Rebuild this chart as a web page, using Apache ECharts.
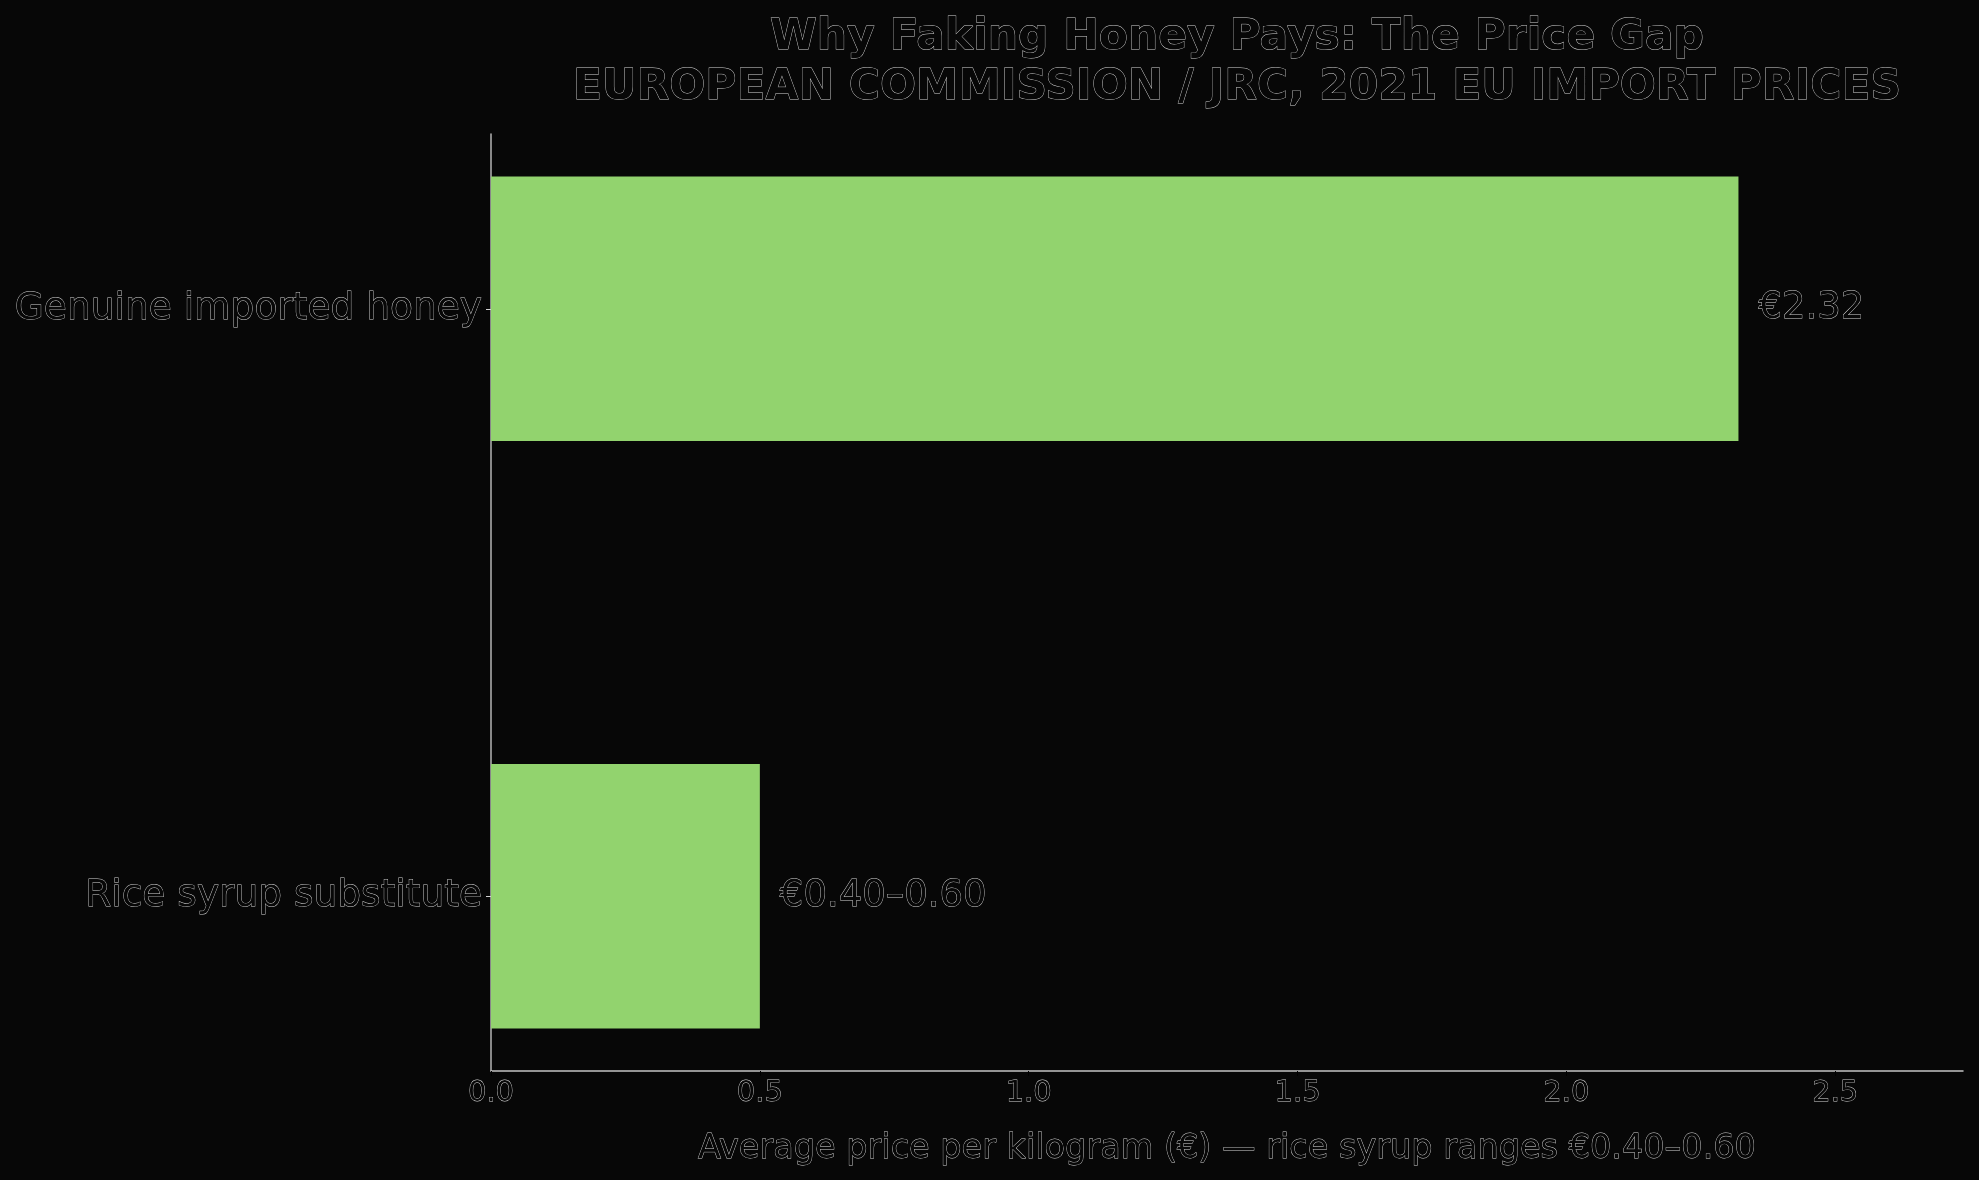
<!DOCTYPE html>
<html>
<head>
<meta charset="utf-8">
<script src="https://cdn.jsdelivr.net/npm/echarts@6/dist/echarts.min.js"></script>
<style>
html,body{margin:0;padding:0;background:#070707;}
#chart{width:1979px;height:1180px;}
</style>
</head>
<body>
<div id="chart"></div>
<script>
const categories = ['Rice syrup substitute', 'Genuine imported honey'];
const values = [0.5, 2.32];
const valueLabels = ['€0.40–0.60', '€2.32'];
const xTicks = [0, 0.5, 1.0, 1.5, 2.0, 2.5];
const titleText = 'Why Faking Honey Pays: The Price Gap\nEUROPEAN COMMISSION / JRC, 2021 EU IMPORT PRICES';
const xAxisName = 'Average price per kilogram (€) — rice syrup ranges €0.40–0.60';

const FONT = 'DejaVu Sans';
const BG = '#070707';
const OUTLINE = '#d2d2d2';
const BAR = '#92d36e';
const HALF = 0.225;
const BW = 0.8;

const chart = echarts.init(document.getElementById('chart'), null, {renderer: 'canvas'});
const outlineText = (size, weight) => ({
  fontFamily: FONT, fontSize: size, fontWeight: weight || 'normal',
  color: BG, textBorderColor: OUTLINE, textBorderWidth: BW
});

chart.setOption({
  backgroundColor: BG,
  animation: false,
  title: {
    text: titleText,
    left: 1232,
    textAlign: 'center',
    top: 8,
    textStyle: Object.assign(outlineText(42.5, 'bold'), {lineHeight: 50})
  },
  grid: {left: 491, right: 16, top: 134, bottom: 109, containLabel: false},
  xAxis: {
    type: 'value',
    min: 0,
    max: 2.7376,
    name: xAxisName,
    nameLocation: 'middle',
    nameGap: 61,
    nameTextStyle: outlineText(33.5),
    axisLine: {show: true, onZero: false, lineStyle: {color: '#c4c4c4', width: 1.5}},
    axisTick: {show: true, customValues: xTicks, length: 5, lineStyle: {color: '#000', width: 1}},
    axisLabel: Object.assign(outlineText(29), {
      customValues: xTicks, margin: 8,
      formatter: v => Number(v).toFixed(1)
    }),
    splitLine: {show: false}
  },
  yAxis: {
    type: 'value',
    min: -0.2975,
    max: 1.2975,
    axisLine: {show: true, onZero: false, lineStyle: {color: '#b4b4b4', width: 1.5}},
    axisTick: {show: true, customValues: [0, 1], length: 5, lineStyle: {color: '#d2d2d2', width: 1}},
    axisLabel: Object.assign(outlineText(37.5), {
      customValues: [0, 1], margin: 9, padding: [6, 0, 0, 0],
      formatter: v => categories[Math.round(v)]
    }),
    splitLine: {show: false}
  },
  series: [{
    type: 'custom',
    data: values.map((v, i) => [v, i]),
    encode: {x: 0, y: 1},
    renderItem: function (params, api) {
      const x = api.value(0), y = api.value(1);
      const p0 = api.coord([0, y + HALF]);
      const p1 = api.coord([x, y - HALF]);
      const mid = api.coord([x, y]);
      return {
        type: 'group',
        children: [
          {type: 'rect', shape: {x: p0[0], y: p0[1], width: p1[0] - p0[0], height: p1[1] - p0[1]}, style: {fill: BAR}},
          {type: 'text', x: mid[0] + 20, y: mid[1],
           style: {text: valueLabels[params.dataIndex], align: 'left', verticalAlign: 'middle',
             font: '37px "DejaVu Sans"', fill: BG, stroke: OUTLINE, lineWidth: BW}}
        ]
      };
    }
  }]
});
</script>
</body>
</html>
